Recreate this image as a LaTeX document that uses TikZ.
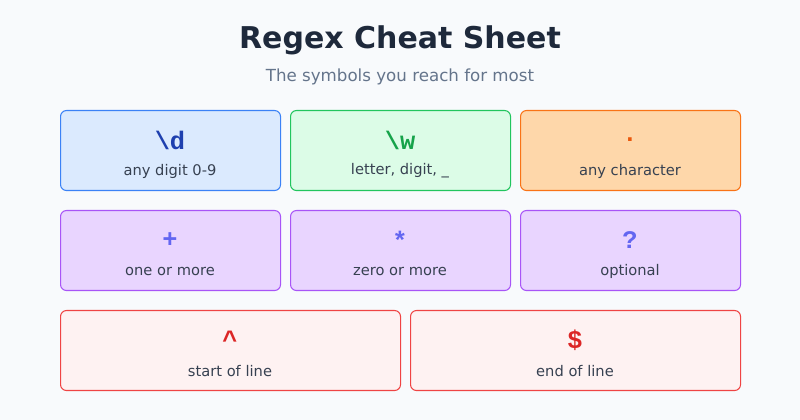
\documentclass[tikz,border=0pt]{standalone}
\usepackage{fontspec}
\setmainfont{DejaVu Sans}
\setmonofont{Liberation Mono}
\definecolor{bgc}{HTML}{F8FAFC}
\definecolor{titlec}{HTML}{1E293B}
\definecolor{subc}{HTML}{64748B}
\definecolor{labc}{HTML}{374151}
\definecolor{bluef}{HTML}{DBEAFE}\definecolor{blued}{HTML}{3B82F6}\definecolor{bluet}{HTML}{1E40AF}
\definecolor{greenf}{HTML}{DCFCE7}\definecolor{greend}{HTML}{22C55E}\definecolor{greent}{HTML}{16A34A}
\definecolor{orangef}{HTML}{FED7AA}\definecolor{oranged}{HTML}{F97316}\definecolor{oranget}{HTML}{EA580C}
\definecolor{purplef}{HTML}{E9D5FF}\definecolor{purpled}{HTML}{A855F7}\definecolor{purplet}{HTML}{6366F1}
\definecolor{redf}{HTML}{FEF2F2}\definecolor{redd}{HTML}{EF4444}\definecolor{redt}{HTML}{DC2626}
\tikzset{
		card/.style={rounded corners=4.5pt, line width=0.8pt, anchor=north west, inner sep=0pt},
		sym/.style={font=\ttfamily\bfseries\fontsize{19}{19}\selectfont},
		lab/.style={text=labc, font=\fontsize{11}{11}\selectfont}
	}
\begin{document}
\begin{tikzpicture}[x=0.75pt,y=-0.75pt]

\fill[bgc] (0,0) rectangle (800,420);
\useasboundingbox (0,0) rectangle (800,420);

\node (title) at (400,40) [text=titlec, font=\bfseries\fontsize{22.5}{22.5}\selectfont] {Regex Cheat Sheet};
\node (sub) at (400,77) [text=subc, font=\fontsize{12.5}{12.5}\selectfont] {The symbols you reach for most};

% first row
\node (digit) at (60,110) [card, draw=blued, fill=bluef, minimum width=165pt, minimum height=60pt] {};
\node (word) at (290,110) [card, draw=greend, fill=greenf, minimum width=165pt, minimum height=60pt] {};
\node (any) at (520,110) [card, draw=oranged, fill=orangef, minimum width=165pt, minimum height=60pt] {};
\node at (170,140) [sym, text=bluet] {\textbackslash d};
\node at (400,140) [sym, text=greent] {\textbackslash w};
\node at (630,140) [sym, text=oranget] {.};
\node at (170,171) [lab] {any digit 0-9};
\node at (400,171) [lab] {letter, digit, \_};
\node at (630,171) [lab] {any character};

% second row
\node (plus) at (60,210) [card, draw=purpled, fill=purplef, minimum width=165pt, minimum height=60pt] {};
\node (star) at (290,210) [card, draw=purpled, fill=purplef, minimum width=165pt, minimum height=60pt] {};
\node (opt) at (520,210) [card, draw=purpled, fill=purplef, minimum width=165pt, minimum height=60pt] {};
\node at (170,240) [sym, text=purplet] {+};
\node at (400,240) [sym, text=purplet] {*};
\node at (630,240) [sym, text=purplet] {?};
\node at (170,271) [lab] {one or more};
\node at (400,271) [lab] {zero or more};
\node at (630,271) [lab] {optional};

% third row
\node (start) at (60,310) [card, draw=redd, fill=redf, minimum width=255pt, minimum height=60pt] {};
\node (end) at (410,310) [card, draw=redd, fill=redf, minimum width=247.5pt, minimum height=60pt] {};
\node at (230,340) [sym, text=redt] {\textasciicircum};
\node at (575,340) [sym, text=redt] {\$};
\node at (230,371) [lab] {start of line};
\node at (575,371) [lab] {end of line};

\end{tikzpicture}
\end{document}
